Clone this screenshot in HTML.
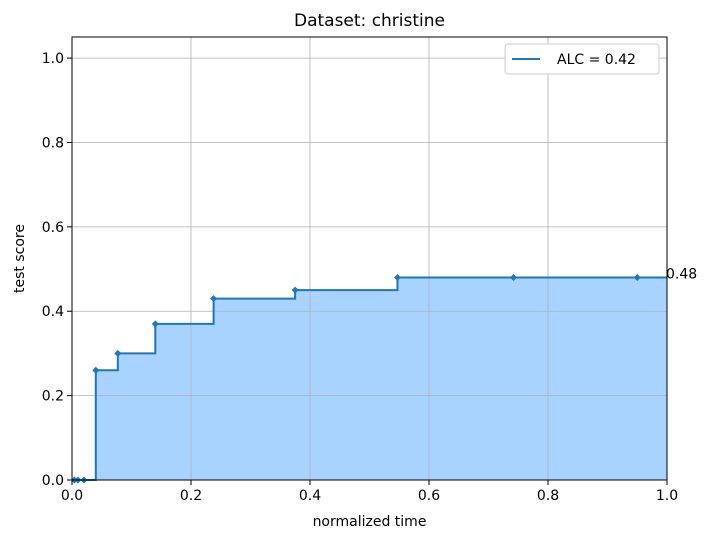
<!DOCTYPE html>
<html><head><meta charset="utf-8"><style>
body{margin:0;background:#fff;font-family:"Liberation Sans","DejaVu Sans",sans-serif}
</style></head><body>
<svg width="716" height="540" xmlns="http://www.w3.org/2000/svg" font-family="'DejaVu Sans','Liberation Sans',sans-serif">
<g id="fillg"></g><g id="grid"></g><g id="marks"></g><g id="axes"></g>
</svg>
<script>
const times=[0.004,0.01,0.02,0.04,0.077,0.14,0.238,0.375,0.547,0.742,0.95];
const scores=[0,0,0,0.26,0.30,0.37,0.43,0.45,0.48,0.48,0.48];
const xTicks=[0,0.2,0.4,0.6,0.8,1.0];
const yTicks=[0,0.2,0.4,0.6,0.8,1.0];
const tickLabels=["0.0","0.2","0.4","0.6","0.8","1.0"];
const alcLabel="ALC = 0.42";
const finalLabel="0.48";
const L=72,R=667,T=37,B=480;
const X=v=>L+v*(R-L);
const Y=v=>B-v*(B-T)/1.05;
const NS="http://www.w3.org/2000/svg";
function mk(tag,attrs,parent,text){const e=document.createElementNS(NS,tag);for(const k in attrs)e.setAttribute(k,attrs[k]);if(text!==undefined)e.textContent=text;parent.appendChild(e);return e;}
const fillg=document.getElementById('fillg'),grid=document.getElementById('grid'),marks=document.getElementById('marks'),axes=document.getElementById('axes');
xTicks.forEach((t,i)=>{
 const g=mk('line',{x1:X(t),x2:X(t),y1:T,y2:B,stroke:'#b0b0b0','stroke-width':0.8},grid);
 
 
 mk('line',{x1:X(t),x2:X(t),y1:B,y2:B+5,stroke:'#000'},axes);
 const l=mk('text',{x:X(t),y:B+20,'font-size':14,'text-anchor':'middle'},axes,tickLabels[i]);
 
 
});
yTicks.forEach((t,i)=>{
 const g=mk('line',{x1:L,x2:R,y1:Y(t),y2:Y(t),stroke:'#b0b0b0','stroke-width':0.8},grid);
 
 
 mk('line',{x1:L-5,x2:L,y1:Y(t),y2:Y(t),stroke:'#000'},axes);
 const l=mk('text',{x:L-8,y:Y(t)+5,'font-size':14,'text-anchor':'end'},axes,tickLabels[i]);
 
 
});
let d=`M${X(0)},${Y(0)}`;
for(let i=0;i<times.length;i++){d+=` H${X(times[i])} V${Y(scores[i])}`;}
d+=` H${X(1)}`;
const fill=mk('path',{d:d+` V${Y(0)} Z`,fill:'#a8d2ff',stroke:'none'},fillg);


const line=mk('path',{d:d,fill:'none',stroke:'#1f77b4','stroke-width':2},marks);


times.forEach((t,i)=>{
 const p=mk('path',{d:`M${X(t)-3.5},${Y(scores[i])} L${X(t)},${Y(scores[i])-3.5} L${X(t)+3.5},${Y(scores[i])} L${X(t)},${Y(scores[i])+3.5}Z`,fill:'#1f77b4'},marks);
 
 
});
const fl=mk('text',{x:X(1)-1,y:Y(scores[scores.length-1])+1,'font-size':14},marks,finalLabel);


const fr=mk('rect',{x:L,y:T,width:R-L,height:B-T,fill:'none',stroke:'#000','stroke-width':1},axes);


const ti=mk('text',{x:(L+R)/2,y:26,'font-size':17,'text-anchor':'middle'},axes,'Dataset: christine');


const xt=mk('text',{x:(L+R)/2,y:526,'font-size':14,'text-anchor':'middle'},axes,'normalized time');


const yt=mk('text',{x:24,y:(T+B)/2,'font-size':14,'text-anchor':'middle',transform:`rotate(-90 24 ${(T+B)/2})`},axes,'test score');


const lg=mk('g',{},axes);


mk('rect',{x:505,y:44,width:154,height:30,rx:3,fill:'#fff',stroke:'#ccc'},lg);
mk('line',{x1:512,x2:540,y1:59,y2:59,stroke:'#1f77b4','stroke-width':2},lg);
mk('text',{x:557,y:64,'font-size':14},lg,alcLabel);
</script>
</body></html>
